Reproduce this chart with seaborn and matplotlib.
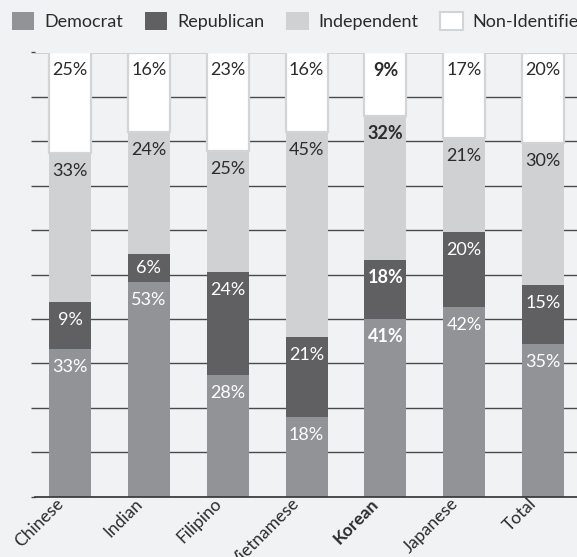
import numpy as np
import pandas as pd
import matplotlib
matplotlib.use("Agg")
import matplotlib.pyplot as plt
import matplotlib.transforms as mtransforms
from matplotlib.patches import Patch
import seaborn as sns

categories = ["Chinese", "Indian", "Filipino", "Vietnamese", "Korean", "Japanese", "Total"]
series_names = ["Democrat", "Republican", "Independent", "Non-Identified"]
highlight = "Korean"

# bar segment heights as drawn in the picture (% of the 0-100 axis)
democrat = [33.3, 48.3, 27.3, 17.8, 40.0, 42.6, 34.3]
republican = [10.4, 6.4, 23.2, 18.1, 13.3, 16.9, 13.4]
independent = [33.6, 27.5, 27.4, 46.3, 32.5, 21.2, 31.9]
non_identified = [22.7, 17.8, 22.1, 17.8, 14.2, 19.3, 20.4]

# data labels printed on the segments
democrat_labels = [33, 53, 28, 18, 41, 42, 35]
republican_labels = [9, 6, 24, 21, 18, 20, 15]
independent_labels = [33, 24, 25, 45, 32, 21, 30]
non_identified_labels = [25, 16, 23, 16, 9, 17, 20]

colors = {"Democrat": "#929396", "Republican": "#606062",
          "Independent": "#d0d1d3", "Non-Identified": "#ffffff"}
text_colors = {"Democrat": "white", "Republican": "white",
               "Independent": "#2b2b2b", "Non-Identified": "#2b2b2b"}
BG = "#f1f2f4"

sns.set_theme(style="white")
plt.rcParams["font.family"] = ["Lato", "DejaVu Sans"]

fig = plt.figure(figsize=(5.77, 5.57), dpi=100, facecolor=BG)
ax = fig.add_axes([35 / 577, 60.5 / 557, 542 / 577, 444 / 557])
ax.set_facecolor(BG)

values = {"Democrat": democrat, "Republican": republican,
          "Independent": independent, "Non-Identified": non_identified}
labels = {"Democrat": democrat_labels, "Republican": republican_labels,
          "Independent": independent_labels, "Non-Identified": non_identified_labels}

bottom = np.zeros(len(categories))
tops = {}
for name in series_names:
    v = np.array(values[name], dtype=float)
    df = pd.DataFrame({"cat": categories, "val": v})
    kw = dict(edgecolor="none", linewidth=0)
    if name == "Non-Identified":
        kw = dict(edgecolor="#d3d4d6", linewidth=1.6)
    sns.barplot(data=df, x="cat", y="val", order=categories, color=colors[name],
                saturation=1, width=0.533, bottom=bottom, ax=ax, zorder=2, **kw)
    tops[name] = (bottom + v).copy()
    bottom = bottom + v

for name in series_names:
    v = np.array(values[name], dtype=float)
    top = tops[name]
    for i, cat in enumerate(categories):
        y = top[i] - min(4.05, v[i] / 2)
        ax.text(i, y, f"{labels[name][i]}%", ha="center", va="center", fontsize=13,
                color=text_colors[name],
                fontweight="bold" if cat == highlight else "normal", zorder=5)

ax.set_xlim(-0.444, 6.43)
ax.set_ylim(0, 100)
ax.set_yticks(np.arange(0, 101, 10))
ax.set_yticklabels([])
ax.yaxis.grid(True, color="#4a4a4a", linewidth=1.0)
ax.set_axisbelow(True)
ax.tick_params(axis="y", left=True, length=3, color="#4a4a4a", width=1)
ax.tick_params(axis="x", bottom=False, pad=6)
for s in ["left", "right", "top"]:
    ax.spines[s].set_visible(False)
ax.spines["bottom"].set_color("#333333")
ax.spines["bottom"].set_linewidth(1.2)
ax.set_xlabel("")
ax.set_ylabel("")

offset = mtransforms.ScaledTranslation(-9 / 100, 12 / 100, fig.dpi_scale_trans)
ax.set_xticks(range(len(categories)))
ax.set_xticklabels(categories)
for lbl in ax.get_xticklabels():
    lbl.set_rotation(45)
    lbl.set_ha("right")
    lbl.set_va("center")
    lbl.set_rotation_mode("anchor")
    lbl.set_fontsize(12.5)
    lbl.set_color("#2b2b2b")
    lbl.set_transform(lbl.get_transform() + offset)
    if lbl.get_text() == highlight:
        lbl.set_fontweight("bold")

handles = [Patch(facecolor=colors[n], edgecolor="#d3d4d6" if n == "Non-Identified" else colors[n],
                 linewidth=1.5 if n == "Non-Identified" else 0) for n in series_names]
fig.legend(handles, series_names, loc="upper left", bbox_to_anchor=(0.0, 1.0),
           ncol=4, frameon=False, fontsize=13, handlelength=1.25, handleheight=1.2,
           handletextpad=0.55, columnspacing=1.2, borderaxespad=0.2, borderpad=0.45,
           labelcolor="#2b2b2b")

fig.savefig("out.png", dpi=100, facecolor=BG)
